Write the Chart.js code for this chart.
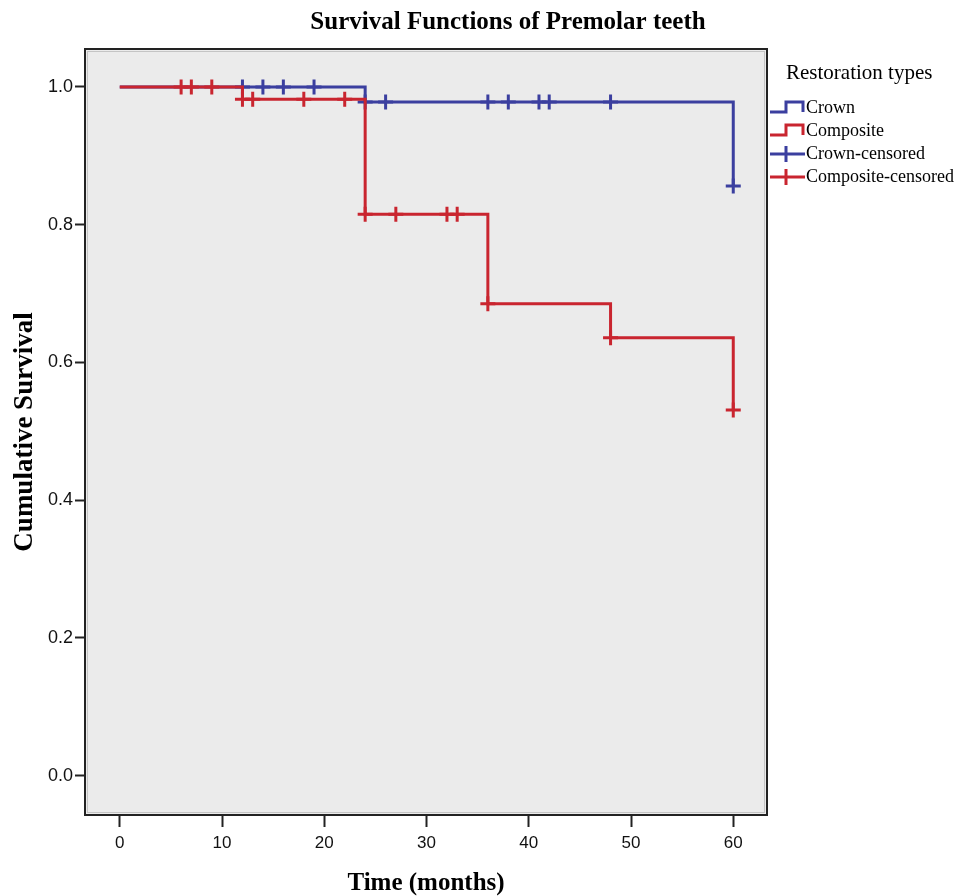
<!DOCTYPE html>
<html><head><meta charset="utf-8">
<script src="https://cdn.jsdelivr.net/npm/chart.js@4/dist/chart.umd.min.js"></script>
<style>html,body{margin:0;padding:0;background:#fff}#wrap{width:966px;height:896px}</style>
</head><body><div id="wrap"><canvas id="c" width="966" height="896"></canvas></div>
<script>
const chartTitle = 'Survival Functions of Premolar teeth';
const xTitle = 'Time (months)';
const yTitle = 'Cumulative Survival';
const legendTitle = 'Restoration types';
const seriesNames = ['Crown', 'Composite', 'Crown-censored', 'Composite-censored'];
const xTicks = [0, 10, 20, 30, 40, 50, 60];
const yTicks = [0, 0.2, 0.4, 0.6, 0.8, 1.0];
const crownStepTimes = [0, 24, 60];
const crownStepSurv = [1.0, 0.978, 0.856];
const compStepTimes = [0, 12, 24, 36, 48, 60];
const compStepSurv = [1.0, 0.982, 0.815, 0.685, 0.636, 0.531];
const crownCensTimes = [12, 14, 16, 19, 24, 26, 36, 38, 41, 42, 48, 60];
const crownCensSurv = [1, 1, 1, 1, 0.978, 0.978, 0.978, 0.978, 0.978, 0.978, 0.978, 0.856];
const compCensTimes = [6, 7, 9, 12, 13, 18, 22, 24, 27, 32, 33, 36, 48, 60];
const compCensSurv = [1, 1, 1, 0.982, 0.982, 0.982, 0.982, 0.815, 0.815, 0.815, 0.815, 0.685, 0.636, 0.531];

const BLUE = '#3b3f9f';
const RED = '#c9252f';
const pts = (xs, ys) => xs.map((x, i) => ({x: x, y: ys[i]}));

const framePlugin = {
  id: 'frame',
  beforeDatasetsDraw(chart) {
    const a = chart.chartArea, ctx = chart.ctx;
    ctx.save();
    ctx.fillStyle = '#ebebeb';
    ctx.fillRect(a.left, a.top, a.right - a.left, a.bottom - a.top);
    ctx.restore();
  },
  afterDraw(chart) {
    const a = chart.chartArea, ctx = chart.ctx;
    ctx.save();
    ctx.strokeStyle = '#c4c4c4';
    ctx.lineWidth = 1;
    ctx.strokeRect(a.left + 2.5, a.top + 2.5, a.right - a.left - 5, a.bottom - a.top - 5);
    ctx.strokeStyle = '#222';
    ctx.lineWidth = 2;
    ctx.strokeRect(a.left, a.top, a.right - a.left, a.bottom - a.top);
    // chart title
    ctx.fillStyle = '#000';
    ctx.font = 'bold 25px "Liberation Serif"';
    ctx.textAlign = 'center';
    ctx.textBaseline = 'middle';
    ctx.fillText(chartTitle, 508, 23);
    // legend
    ctx.textAlign = 'left';
    ctx.font = '21px "Liberation Serif"';
    ctx.fillText(legendTitle, 786, 73);
    ctx.font = '18px "Liberation Serif"';
    const rows = [108, 131, 154, 177];
    const cols = [BLUE, RED, BLUE, RED];
    ctx.lineWidth = 3;
    rows.forEach((y, i) => {
      ctx.strokeStyle = cols[i];
      ctx.beginPath();
      if (i < 2) {
        ctx.moveTo(770, y + 4); ctx.lineTo(786, y + 4); ctx.lineTo(786, y - 6);
        ctx.lineTo(803, y - 6); ctx.lineTo(803, y + 4);
      } else {
        ctx.moveTo(770, y); ctx.lineTo(805, y);
        ctx.moveTo(786, y - 8); ctx.lineTo(786, y + 8);
      }
      ctx.stroke();
      ctx.fillStyle = '#000';
      ctx.fillText(seriesNames[i], 806, y);
    });
    ctx.restore();
  }
};

new Chart(document.getElementById('c'), {
  type: 'scatter',
  data: {
    datasets: [
      {label: seriesNames[1], type: 'line', data: pts(compStepTimes, compStepSurv), stepped: 'before',
       borderColor: RED, borderWidth: 3, pointRadius: 0, fill: false, order: 0},
      {label: seriesNames[3], type: 'scatter', data: pts(compCensTimes, compCensSurv), pointStyle: 'cross',
       pointRadius: 7.5, borderColor: RED, borderWidth: 3, backgroundColor: RED, order: 0},
      {label: seriesNames[0], type: 'line', data: pts(crownStepTimes, crownStepSurv), stepped: 'before',
       borderColor: BLUE, borderWidth: 3, pointRadius: 0, fill: false, order: 2},
      {label: seriesNames[2], type: 'scatter', data: pts(crownCensTimes, crownCensSurv), pointStyle: 'cross',
       pointRadius: 7.5, borderColor: BLUE, borderWidth: 3, backgroundColor: BLUE, order: 2}
    ]
  },
  options: {
    responsive: false, animation: false, devicePixelRatio: 1,
    layout: {padding: {top: 49, right: 199, left: 0, bottom: 0}},
    plugins: {legend: {display: false}, tooltip: {enabled: false}, title: {display: false}},
    scales: {
      x: {
        type: 'linear', min: -3.4, max: 63.3,
        afterBuildTicks: s => { s.ticks = xTicks.map(v => ({value: v})); },
        afterFit: s => { s.height = 81; },
        grid: {drawOnChartArea: false, tickLength: 12, tickColor: '#222', tickWidth: 2},
        border: {display: false},
        ticks: {color: '#111', font: {family: 'Liberation Sans', size: 17}, padding: 6, maxRotation: 0,
                callback: v => String(v)},
        title: {display: true, text: xTitle, color: '#000',
                font: {family: 'Liberation Serif', size: 25, weight: 'bold', lineHeight: 1}, padding: {top: 0, bottom: 0}}
      },
      y: {
        type: 'linear', min: -0.057, max: 1.055,
        afterBuildTicks: s => { s.ticks = yTicks.map(v => ({value: v})); },
        afterFit: s => { s.width = 85; },
        grid: {drawOnChartArea: false, tickLength: 10, tickColor: '#222', tickWidth: 2},
        border: {display: false},
        ticks: {color: '#111', font: {family: 'Liberation Sans', size: 18}, padding: 2,
                callback: v => v.toFixed(1)},
        title: {display: true, text: yTitle, color: '#000',
                font: {family: 'Liberation Serif', size: 27, weight: 'bold', lineHeight: 1}, padding: {top: 12, bottom: 0}}
      }
    }
  },
  plugins: [framePlugin]
});
</script></body></html>
